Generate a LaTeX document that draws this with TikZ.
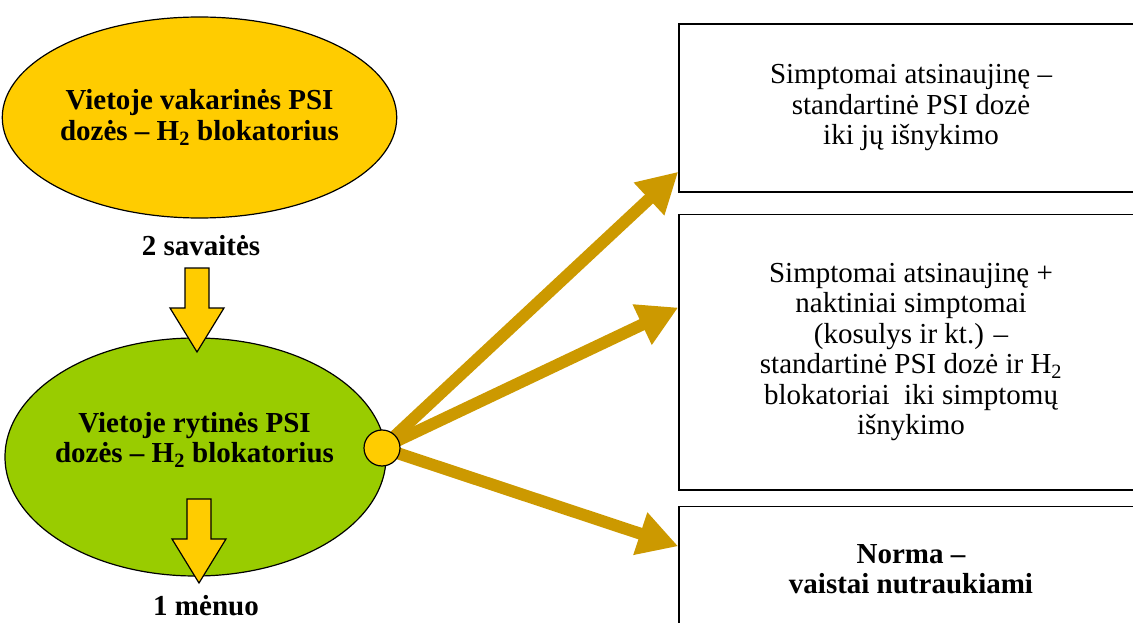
\documentclass[tikz,border=0pt]{standalone}
\usepackage{fontspec}
\setmainfont{Liberation Serif}
\usetikzlibrary{shapes.geometric, arrows.meta}
\definecolor{doseyellow}{HTML}{FFCC00}
\definecolor{dosegreen}{HTML}{99CC00}
\definecolor{fangold}{HTML}{CC9900}
\newcommand{\bigtext}{\fontsize{29}{30.5}\selectfont}
\tikzstyle{dose}=[ellipse, draw, line width=1.2pt, inner sep=0pt, align=center, font=\bigtext\bfseries]
\tikzstyle{outcome}=[rectangle, draw, line width=1.5pt, minimum width=464pt, align=center, font=\bigtext]
\tikzstyle{hub}=[circle, draw, line width=1.2pt, fill=doseyellow, minimum size=36pt, inner sep=0pt]
\tikzstyle{fan}=[line width=12pt, fangold, -{Triangle[length=40pt, width=42pt]}]
\tikzstyle{block}=[draw, line width=1.2pt, fill=doseyellow, line join=miter]
\tikzstyle{period}=[font=\bigtext\bfseries, anchor=base]
\newcommand{\blockdown}[2]{\draw [block] (#1-12,#2) -- ++(24,0) -- ++(0,40) -- ++(15,0) -- (#1,#2+84) -- ++(-27,-44) -- ++(15,0) -- cycle;}

\begin{document}
\begin{tikzpicture}[x=1pt, y=-1pt]
    \clip (0,0) rectangle (1133,623);
    \node [dose, fill=doseyellow, minimum width=373pt, minimum height=201pt] (evening) at (199.5,117.5) {Vietoje vakarinės PSI\\dozės – H\textsubscript{2} blokatorius};
    \node [dose, fill=dosegreen, minimum width=381pt, minimum height=238pt] (morning) at (195.5,457) {};
    \node [font=\bigtext\bfseries, align=center] (morningtext) at (194.5,440) {Vietoje rytinės PSI\\dozės – H\textsubscript{2} blokatorius};
    \node [period] (weeks) at (201,255) {2 savaitės};
    \node [period] (month) at (206,615) {1 mėnuo};
    \blockdown{197}{268}
    \blockdown{199}{499}
    % outcomes
    \node [outcome, minimum height=168pt] (relapse) at (911,108) {Simptomai atsinaujinę –\\standartinė PSI dozė\\iki jų išnykimo};
    \node [outcome, minimum height=275.5pt] (night) at (911,352) {Simptomai atsinaujinę +\\naktiniai simptomai\\(kosulys ir kt.) –\\standartinė PSI dozė ir H\textsubscript{2}\\blokatoriai\ \ iki simptomų\\išnykimo};
    \node [outcome, minimum height=125pt, font=\bigtext\bfseries] (norm) at (911,569) {Norma –\\vaistai nutraukiami};
    \coordinate (hubpt) at (382,448);
    \draw [fan] (hubpt) -- ([yshift=21pt]relapse.south west);
    \draw [fan] (hubpt) -- ([yshift=-94pt]night.north west);
    \draw [fan] (hubpt) -- ([yshift=-40.5pt]norm.north west);
    \node [hub] (hub) at (hubpt) {};
\end{tikzpicture}
\end{document}
